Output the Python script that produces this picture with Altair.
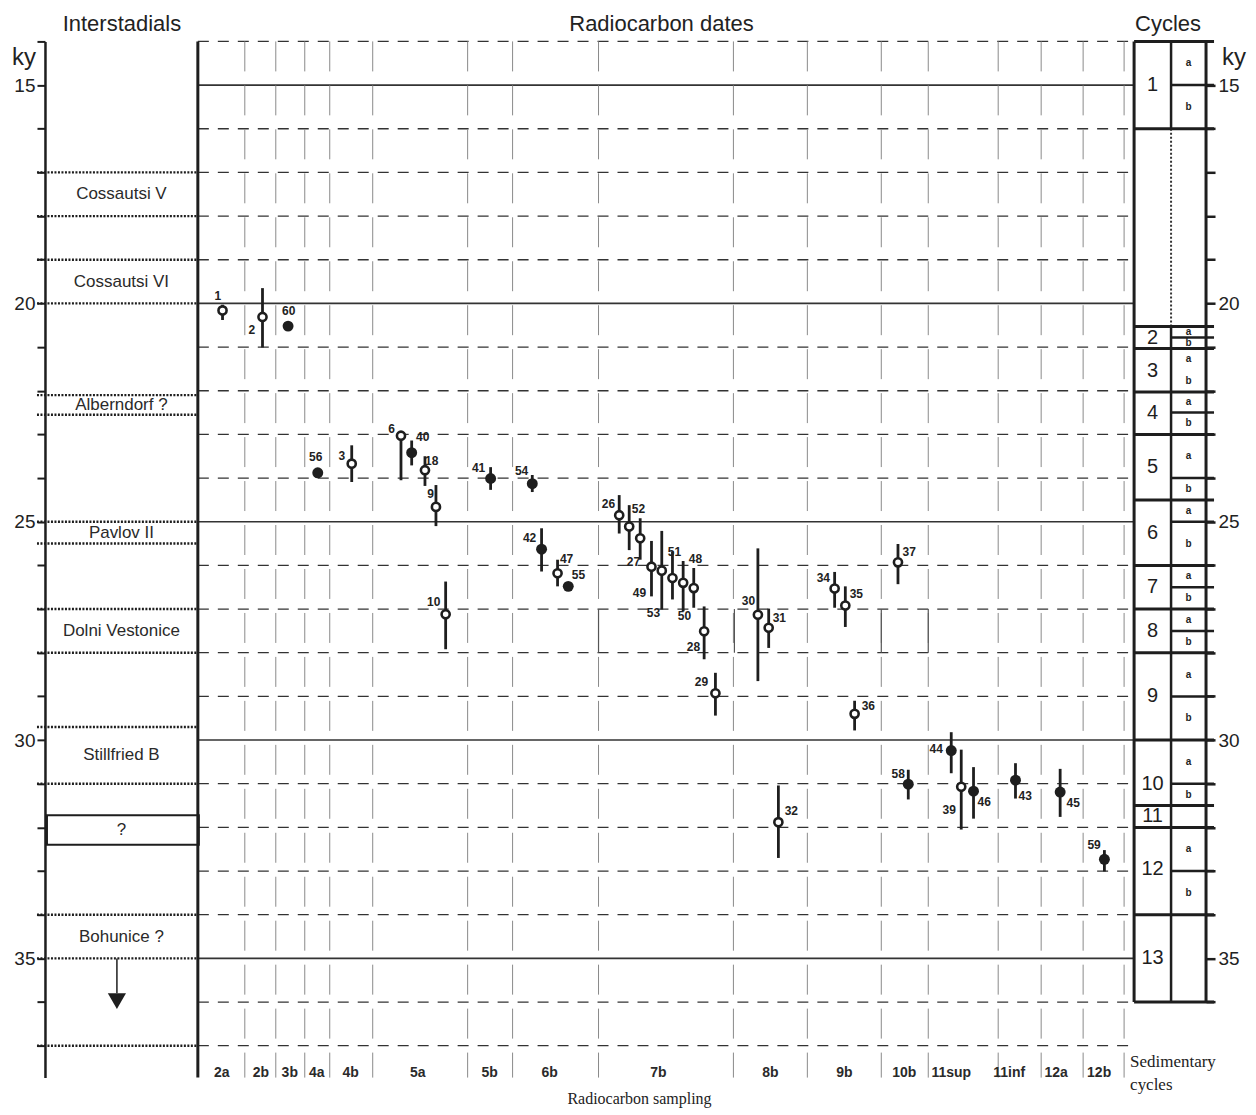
import altair as alt
import pandas as pd

# ---------------------------------------------------------------- data
# vertical axis: age in ky (14 at top, ~37.7 at bottom)
ky_ticks = list(range(14, 38))

# horizontal "position" axis (units of the original figure, left axis = 43)
sampling_labels = ["2a", "2b", "3b", "4a", "4b", "5a", "5b", "6b", "7b", "8b",
                   "9b", "10b", "11sup", "11inf", "12a", "12b"]
sampling_label_pos = [220, 259, 288, 315, 349, 416, 488, 548, 657, 769,
                      843, 903, 950, 1008, 1055, 1098]
sampling_edges = [196, 243, 274, 303, 328, 371, 466, 511, 597, 732, 806,
                  880, 927, 997, 1040, 1082, 1123]
highlight_edges = [597, 733, 880, 927]          # short solid segments 27-28 ky

inter_names = ["Cossautsi V", "Cossautsi VI", "Alberndorf ?", "Pavlov II",
               "Dolni Vestonice", "Stillfried B", "Bohunice ?"]
inter_top = [17, 19, 22.1, 25, 27, 29.7, 34]
inter_bottom = [18, 20, 22.55, 25.5, 28, 31.0, 35]
unknown_top, unknown_bottom = 31.72, 32.4
inter_last_line = 37

cycle_names = [str(i) for i in range(1, 14)]
cycle_top = [14, 20.53, 21.03, 22.03, 23.0, 24.5, 26.0, 27.0, 28.0, 30.0, 31.5, 32.0, 34.0]
cycle_bottom = [16, 21.03, 22.03, 23.0, 24.5, 26.0, 27.0, 28.0, 30.0, 31.5, 32.0, 34.0, 36.0]
cycle_label_ky = [15, 20.8, 21.55, 22.5, 23.75, 25.25, 26.5, 27.5, 29.0, 31.0, 31.75, 32.95, 35.0]
cycle_split = [15, 20.78, 21.53, 22.5, 24.0, 25.0, 26.5, 27.5, 29.0, 31.0, None, 33.0, None]
cycle_split_drawn = [True, True, False, True, True, True, True, True, True, True, False, True, False]

date_ids = ["1", "2", "60", "56", "3", "6", "40", "18", "9", "10", "41", "54", "42",
            "47", "55", "26", "52", "27", "49", "53", "51", "50", "48", "28", "29",
            "30", "31", "32", "34", "35", "36", "37", "58", "44", "39", "46", "43",
            "45", "59"]
date_pos = [220.7, 260.7, 286.3, 316, 350, 399.3, 410, 423.3, 434.3, 444, 489, 530.7,
            540, 556, 566.7, 617.7, 627.7, 638.7, 650, 660.3, 671, 681.7, 692.3, 702.7,
            714, 756.5, 767.3, 777, 833.3, 844, 853.3, 896.7, 907, 950, 960, 972.3,
            1014.3, 1059, 1103.3]
date_ky = [20.16, 20.31, 20.52, 23.88, 23.67, 23.03, 23.42, 23.82, 24.66, 27.12, 24.01,
           24.13, 25.63, 26.18, 26.48, 24.85, 25.11, 25.38, 26.03, 26.12, 26.29, 26.4,
           26.52, 27.51, 28.93, 27.13, 27.43, 31.88, 26.53, 26.92, 29.4, 25.93, 31.01,
           30.24, 31.07, 31.17, 30.92, 31.19, 32.73]
date_lo = [20.03, 19.65, None, None, 23.25, 23.0, 23.14, 23.5, 24.16, 26.37, 23.75,
           23.93, 25.15, 25.87, None, 24.39, 24.62, 24.92, 25.44, 25.21, 25.68, 25.9,
           26.06, 26.94, 28.46, 25.61, 26.99, 31.04, 26.15, 26.48, 29.1, 25.51, 30.68,
           29.82, 30.22, 30.62, 30.53, 30.66, 32.52]
date_hi = [20.38, 21.01, None, None, 24.09, 24.05, 23.71, 24.18, 25.1, 27.92, 24.27,
           24.32, 26.14, 26.48, None, 25.27, 25.65, 25.87, 26.71, 27.01, 26.78, 27.05,
           26.97, 28.15, 29.44, 28.65, 27.89, 32.7, 26.97, 27.41, 29.78, 26.43, 31.36,
           30.76, 32.05, 31.8, 31.34, 31.76, 33.01]
date_filled = [False, False, True, True, False, False, True, False, False, False, True,
               True, True, False, True, False, False, False, False, False, False, False,
               False, False, False, False, False, False, False, False, False, False, True,
               True, False, True, True, True, True]
label_pos = [216, 250, 287, 314, 340, 390, 421, 430, 429, 432, 477, 520, 528, 565, 577,
             607, 637, 632, 638, 652, 673, 683, 694, 692, 700, 747, 778, 790, 822, 855,
             867, 908, 897, 935, 948, 983, 1024, 1072, 1093]
label_ky = [19.82, 20.6, 20.17, 23.51, 23.49, 22.87, 23.05, 23.62, 24.37, 26.83, 23.78,
            23.83, 25.38, 25.85, 26.22, 24.6, 24.72, 25.92, 26.63, 27.1, 25.69, 27.17,
            25.85, 27.88, 28.67, 26.81, 27.2, 31.63, 26.29, 26.65, 29.22, 25.69, 30.77,
            30.2, 31.61, 31.43, 31.29, 31.45, 32.41]

# ---------------------------------------------------------------- layout constants
KY_MIN, KY_MAX = 14.0, 37.73
POS_MIN, POS_MAX = 43.0, 1205.0
INTER_L, INTER_R = 43, 196
DATES_R = 1133
CYC_L, CYC_M, CYC_R = 1133, 1170, 1205
FONT = "Liberation Sans"
NARROW = "Liberation Sans Narrow, Liberation Sans"
SERIF = "Liberation Serif"
INK = "#1e1e1e"

xs = alt.Scale(domain=[POS_MIN, POS_MAX], nice=False, zero=False)
ys = alt.Scale(domain=[KY_MIN, KY_MAX], nice=False, zero=False, reverse=True)


def X(f):
    return alt.X(f, type="quantitative", scale=xs, axis=None)


def Y(f):
    return alt.Y(f, type="quantitative", scale=ys, axis=None)


def hlines(kys, x0, x1):
    return pd.DataFrame({"ky": kys, "x0": [x0] * len(kys), "x1": [x1] * len(kys)})


def vlines(poss, y0, y1):
    return pd.DataFrame({"pos": poss, "y0": [y0] * len(poss), "y1": [y1] * len(poss)})


def texts(labels, poss, kys):
    return pd.DataFrame({"t": labels, "pos": poss, "ky": kys})


layers = []

# ---- radiocarbon panel grid
dashed_ky = [k for k in ky_ticks if k % 5 != 0]
solid_ky = [k for k in ky_ticks if k % 5 == 0]
layers.append(alt.Chart(hlines(dashed_ky, INTER_R, DATES_R)).mark_rule(
    color="#333", strokeWidth=1.3, strokeDash=[11, 9]).encode(x=X("x0"), x2="x1", y=Y("ky")))
layers.append(alt.Chart(hlines(solid_ky, INTER_R, DATES_R)).mark_rule(
    color="#333", strokeWidth=1.6).encode(x=X("x0"), x2="x1", y=Y("ky")))
layers.append(alt.Chart(vlines(sampling_edges[1:], KY_MIN, KY_MAX)).mark_rule(
    color="#8a8a8a", strokeWidth=1, strokeDash=[30, 14]).encode(x=X("pos"), y=Y("y0"), y2="y1"))
layers.append(alt.Chart(vlines(highlight_edges, 27, 28)).mark_rule(
    color="#555", strokeWidth=1.2).encode(x=X("pos"), y=Y("y0"), y2="y1"))
layers.append(alt.Chart(vlines([INTER_R], KY_MIN, KY_MAX)).mark_rule(
    color=INK, strokeWidth=3).encode(x=X("pos"), y=Y("y0"), y2="y1"))

# ---- interstadials column
layers.append(alt.Chart(hlines(inter_top + inter_bottom + [inter_last_line], 35, INTER_R)).mark_rule(
    color=INK, strokeWidth=2.4, strokeDash=[2, 1.5]).encode(x=X("x0"), x2="x1", y=Y("ky")))
unk = pd.DataFrame({"x0": [45], "x1": [197], "y0": [unknown_top], "y1": [unknown_bottom]})
layers.append(alt.Chart(unk).mark_rect(fillOpacity=0, stroke=INK, strokeWidth=2).encode(
    x=X("x0"), x2="x1", y=Y("y0"), y2="y1"))
inter_mid = [(a + b) / 2 for a, b in zip(inter_top, inter_bottom)]
inter_center = (INTER_L + INTER_R) / 2
layers.append(alt.Chart(texts(inter_names + ["?"], [inter_center] * (len(inter_names) + 1),
                              inter_mid + [(unknown_top + unknown_bottom) / 2])).mark_text(
    font=FONT, fontSize=17, color="#2a2a2a", align="center", baseline="middle").encode(
    x=X("pos"), y=Y("ky"), text="t"))
arrow = pd.DataFrame({"pos": [115], "y0": [35.0], "y1": [35.8]})
layers.append(alt.Chart(arrow).mark_rule(color=INK, strokeWidth=1.5).encode(
    x=X("pos"), y=Y("y0"), y2="y1"))
layers.append(alt.Chart(pd.DataFrame({"pos": [115], "ky": [35.98]})).mark_point(
    shape="triangle-down", filled=True, color=INK, size=330, opacity=1).encode(x=X("pos"), y=Y("ky")))

# ---- cycles column
layers.append(alt.Chart(vlines([CYC_L, CYC_R], 14, 36)).mark_rule(
    color=INK, strokeWidth=3).encode(x=X("pos"), y=Y("y0"), y2="y1"))
mid_solid = pd.DataFrame({"pos": [CYC_M, CYC_M], "y0": [14, cycle_top[1]], "y1": [cycle_bottom[0], 36]})
layers.append(alt.Chart(mid_solid).mark_rule(color=INK, strokeWidth=2.5).encode(
    x=X("pos"), y=Y("y0"), y2="y1"))
layers.append(alt.Chart(vlines([CYC_M], cycle_bottom[0], cycle_top[1])).mark_rule(
    color="#333", strokeWidth=2, strokeDash=[2, 2]).encode(x=X("pos"), y=Y("y0"), y2="y1"))
bounds = sorted(set(cycle_top + cycle_bottom))
layers.append(alt.Chart(hlines(bounds, CYC_L, 1213)).mark_rule(
    color=INK, strokeWidth=3).encode(x=X("x0"), x2="x1", y=Y("ky")))
splits = [s for s, d in zip(cycle_split, cycle_split_drawn) if d]
layers.append(alt.Chart(hlines(splits, CYC_M, 1213)).mark_rule(
    color=INK, strokeWidth=2.5).encode(x=X("x0"), x2="x1", y=Y("ky")))
layers.append(alt.Chart(texts(cycle_names, [(CYC_L + CYC_M) / 2] * 13, cycle_label_ky)).mark_text(
    font=FONT, fontSize=20, color=INK, align="center", baseline="middle").encode(
    x=X("pos"), y=Y("ky"), text="t"))
ab_t, ab_k = [], []
for t, s, b in zip(cycle_top, cycle_split, cycle_bottom):
    if s is not None:
        ab_t += ["a", "b"]
        ab_k += [(t + s) / 2, (s + b) / 2]
layers.append(alt.Chart(texts(ab_t, [(CYC_M + CYC_R) / 2] * len(ab_t), ab_k)).mark_text(
    font=FONT, fontSize=10, fontWeight="bold", color=INK, align="center", baseline="middle").encode(
    x=X("pos"), y=Y("ky"), text="t"))

# ---- radiocarbon dates
dates = pd.DataFrame({"id": date_ids, "pos": date_pos, "ky": date_ky, "lo": date_lo,
                      "hi": date_hi, "filled": date_filled, "lpos": label_pos, "lky": label_ky})
bars = dates.dropna(subset=["lo", "hi"])
layers.append(alt.Chart(bars).mark_rule(color=INK, strokeWidth=2.8).encode(
    x=X("pos"), y=Y("lo"), y2="hi"))
layers.append(alt.Chart(dates[~dates["filled"]]).mark_point(
    shape="circle", filled=True, fill="white", stroke=INK, strokeWidth=2.6, size=66, opacity=1).encode(
    x=X("pos"), y=Y("ky")))
layers.append(alt.Chart(dates[dates["filled"]]).mark_point(
    shape="circle", filled=True, color=INK, size=120, opacity=1).encode(x=X("pos"), y=Y("ky")))
layers.append(alt.Chart(dates).mark_text(
    font=NARROW, fontSize=12, fontWeight="bold", color="#222", align="center", baseline="middle").encode(
    x=X("lpos"), y=Y("lky"), text="id"))

# ---- sampling labels & titles
layers.append(alt.Chart(texts(sampling_labels, sampling_label_pos, [37.63] * len(sampling_labels))).mark_text(
    font=NARROW, fontSize=14, fontWeight="bold", color="#2a2a2a", align="center", baseline="middle").encode(
    x=X("pos"), y=Y("ky"), text="t"))
layers.append(alt.Chart(texts(["Interstadials", "Radiocarbon dates", "Cycles"],
                              [120, 660, 1167], [13.6, 13.6, 13.6])).mark_text(
    font=FONT, fontSize=22, color="#222", align="center", baseline="middle").encode(
    x=X("pos"), y=Y("ky"), text="t"))
layers.append(alt.Chart(texts(["ky", "ky"], [22, 1233], [14.38, 14.38])).mark_text(
    font=FONT, fontSize=24, color="#222", align="center", baseline="middle").encode(
    x=X("pos"), y=Y("ky"), text="t"))
layers.append(alt.Chart(texts(["Sedimentary", "cycles"], [1129, 1129], [37.38, 37.9])).mark_text(
    font=SERIF, fontSize=17, color="#222", align="left", baseline="middle").encode(
    x=X("pos"), y=Y("ky"), text="t"))
layers.append(alt.Chart(texts(["Radiocarbon sampling"], [638], [38.22])).mark_text(
    font=SERIF, fontSize=16, color="#222", align="center", baseline="middle").encode(
    x=X("pos"), y=Y("ky"), text="t"))

# ---- axes (left and right ky scales)
tick_df = pd.DataFrame({"ky": ky_ticks})
left_axis = alt.Axis(orient="left", values=ky_ticks, title="",
                     labelExpr="datum.value % 5 === 0 ? datum.label : ''",
                     tickSize=8, tickWidth=2, tickColor=INK, domainColor=INK, domainWidth=2.5,
                     labelFont=FONT, labelFontSize=19, labelColor="#222", labelPadding=2,
                     labelOverlap=False, grid=False)
right_axis = alt.Axis(orient="right", values=list(range(15, 37)), title="",
                      labelExpr="datum.value % 5 === 0 ? datum.label : ''",
                      tickSize=9, tickWidth=2.5, tickColor=INK, domain=False,
                      labelFont=FONT, labelFontSize=19, labelColor="#222", labelPadding=3,
                      labelOverlap=False, grid=False)
layers.append(alt.Chart(tick_df).mark_point(opacity=0).encode(
    x=alt.value(0), y=alt.Y("ky", type="quantitative", scale=ys, axis=left_axis)))
layers.append(alt.Chart(tick_df).mark_point(opacity=0).encode(
    x=alt.value(0), y=alt.Y("ky", type="quantitative", scale=ys, axis=right_axis)))

chart = alt.layer(*layers).resolve_axis(y="independent").properties(
    width=POS_MAX - POS_MIN, height=1037,
    padding={"left": 4, "top": 4, "right": 2, "bottom": 0},
).configure_view(stroke="transparent")

chart.save("out.html", embed_options={"renderer": "svg", "actions": False})
